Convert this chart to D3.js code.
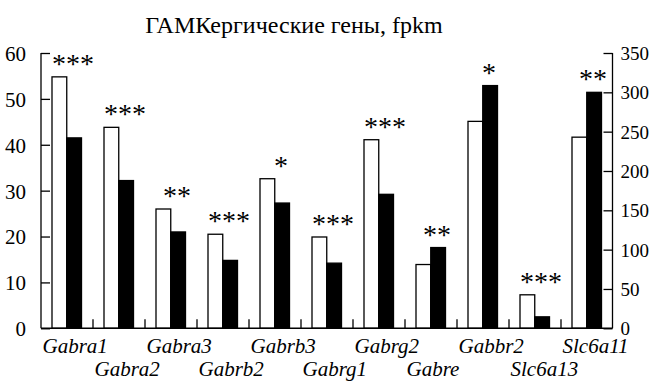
<!DOCTYPE html>
<html>
<head>
<meta charset="utf-8">
<script src="https://cdn.jsdelivr.net/npm/d3@7"></script>
<style>
  body { margin: 0; background: #fff; }
  svg text { font-family: "Liberation Serif", "Times New Roman", serif; }
</style>
</head>
<body>
<div id="chart"></div>
<script>
// GABAergic genes, two groups (white / black bars)
var genes = ['Gabra1', 'Gabra2', 'Gabra3', 'Gabrb2', 'Gabrb3', 'Gabrg1',
             'Gabrg2', 'Gabre', 'Gabbr2', 'Slc6a13', 'Slc6a11'];
var whiteVals = [54.8, 43.8, 26.0, 20.5, 32.6, 19.9, 41.1, 13.9, 45.1, 7.3, 243];
var blackVals = [41.5, 32.2, 21.0, 14.8, 27.3, 14.2, 29.2, 17.6, 52.9, 2.5, 300];
// which y axis each gene is read against
var axisSide = ['left', 'left', 'left', 'left', 'left', 'left',
                'left', 'left', 'left', 'left', 'right'];
var stars = ['***', '***', '**', '***', '*', '***', '***', '**', '*', '***', '**'];
var leftTicks = [0, 10, 20, 30, 40, 50, 60];
var rightTicks = [0, 50, 100, 150, 200, 250, 300, 350];
var title = 'ГАМКергические гены, fpkm';

var width = 657, height = 382;
var x0 = 41, x1 = 612.5, yTop = 53, yBot = 328.3;

var svg = d3.select('#chart').append('svg')
  .attr('width', width)
  .attr('height', height);

var x = d3.scaleBand().domain(genes).range([x0, x0 + 52 * genes.length]);
var xi = d3.scaleBand().domain(['white', 'black']).range([11, 40.5]);
var yL = d3.scaleLinear().domain([0, 60]).range([yBot, yTop]);
var yR = d3.scaleLinear().domain([0, 350]).range([yBot, yTop]);

var rows = genes.map(function(g, i) {
  return { gene: g, white: whiteVals[i], black: blackVals[i],
           y: axisSide[i] === 'right' ? yR : yL, stars: stars[i], i: i };
});

// bars
var groups = svg.selectAll('g.gene')
  .data(rows)
  .enter().append('g')
    .attr('class', 'gene')
    .attr('transform', function(d) { return 'translate(' + x(d.gene) + ',0)'; });

groups.selectAll('rect')
  .data(function(d) {
    return [{ k: 'white', v: d.white, y: d.y }, { k: 'black', v: d.black, y: d.y }];
  })
  .enter().append('rect')
    .attr('x', function(d) { return xi(d.k); })
    .attr('width', xi.bandwidth())
    .attr('y', function(d) { return d.y(d.v); })
    .attr('height', function(d) { return yBot - d.y(d.v); })
    .attr('fill', function(d) { return d.k === 'white' ? '#fff' : '#000'; })
    .attr('stroke', '#000')
    .attr('stroke-width', 1.3);

// significance stars
groups.append('text')
  .attr('x', 32)
  .attr('y', function(d) { return d.y(Math.max(d.white, d.black)) - 4; })
  .attr('text-anchor', 'middle')
  .style('font-size', '28px')
  .text(function(d) { return d.stars; });

// axes
var leftAxis = d3.axisLeft(yL).tickValues(leftTicks).tickSize(-9).tickPadding(15);
var rightAxis = d3.axisRight(yR).tickValues(rightTicks).tickSize(-9).tickPadding(8);

var gl = svg.append('g').attr('transform', 'translate(' + x0 + ',0)').call(leftAxis);
var gr = svg.append('g').attr('transform', 'translate(' + x1 + ',0)').call(rightAxis);
[gl, gr].forEach(function(g) {
  g.attr('font-family', null);
  g.select('.domain').attr('d', 'M0,' + yTop + 'V' + yBot)
    .attr('stroke-width', 1.3);
  g.selectAll('.tick line').attr('stroke-width', 1.3);
  g.selectAll('.tick text')
    .style('font-size', g === gr ? '19px' : '21px')
    .attr('dy', '0.35em');
});

// bottom axis: line plus small upward ticks between genes
svg.append('line')
  .attr('x1', x0).attr('x2', x1)
  .attr('y1', yBot).attr('y2', yBot)
  .attr('stroke', '#000').attr('stroke-width', 1.5);

svg.selectAll('line.sep')
  .data(genes.slice(1))
  .enter().append('line')
    .attr('class', 'sep')
    .attr('x1', function(d) { return x(d); })
    .attr('x2', function(d) { return x(d); })
    .attr('y1', yBot).attr('y2', yBot - 9)
    .attr('stroke', '#000').attr('stroke-width', 1.3);

// gene labels, staggered in two rows
svg.selectAll('text.gene-label')
  .data(rows)
  .enter().append('text')
    .attr('class', 'gene-label')
    .attr('x', function(d) { return x(d.gene) + 1.5; })
    .attr('y', function(d) { return d.i % 2 === 0 ? 353 : 375.5; })
    .style('font-size', '21px')
    .style('font-style', 'italic')
    .text(function(d) { return d.gene; });

svg.append('text')
  .attr('x', 294)
  .attr('y', 33)
  .attr('text-anchor', 'middle')
  .style('font-size', '24px')
  .text(title);
</script>
</body>
</html>
